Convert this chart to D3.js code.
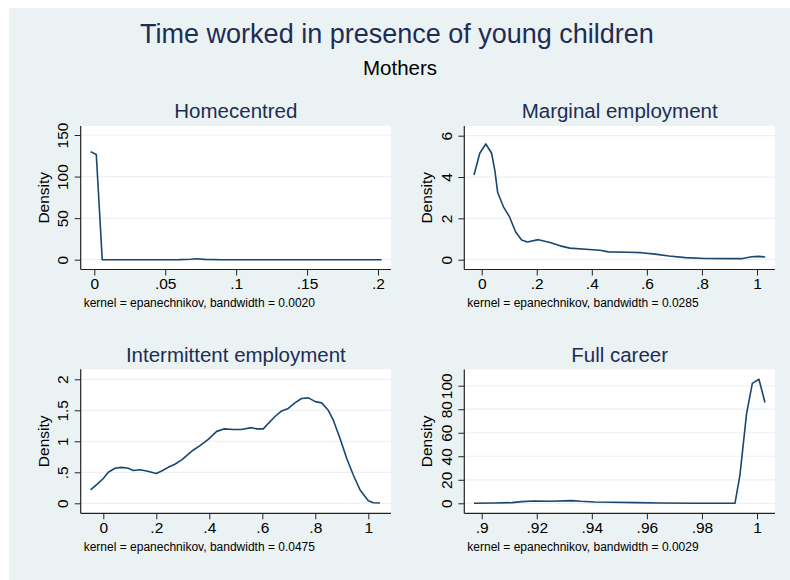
<!DOCTYPE html>
<html>
<head>
<meta charset="utf-8">
<script src="https://cdn.jsdelivr.net/npm/d3@7"></script>
<style>
  body { margin: 0; background: #ffffff; }
  svg { display: block; font-family: "Liberation Sans", Arial, sans-serif; }
</style>
</head>
<body>
<svg id="chart"></svg>
<script>
// Density estimates, one pair of arrays per panel
var homecentredX = [-0.0026, 0.0014, 0.0056, 0.02, 0.04, 0.06, 0.068, 0.0723, 0.078, 0.09, 0.12, 0.15, 0.18, 0.2026];
var homecentredY = [130, 126.5, 0, 0, 0, 0.1, 0.6, 1.2, 0.4, 0, 0, 0, 0, 0];

var marginalX = [-0.028, -0.007, 0.015, 0.036, 0.048, 0.058, 0.079, 0.1, 0.123, 0.145, 0.166, 0.206, 0.248, 0.285, 0.32, 0.39, 0.43, 0.46, 0.53, 0.58, 0.63, 0.68, 0.74, 0.81, 0.9, 0.944, 0.98, 1.005, 1.03];
var marginalY = [4.1, 5.15, 5.6, 5.15, 4.3, 3.25, 2.56, 2.1, 1.35, 0.95, 0.86, 0.97, 0.83, 0.67, 0.56, 0.49, 0.46, 0.38, 0.36, 0.34, 0.27, 0.18, 0.1, 0.06, 0.05, 0.05, 0.14, 0.16, 0.13];

var intermittentX = [-0.048, -0.025, 0, 0.019, 0.044, 0.069, 0.094, 0.113, 0.138, 0.164, 0.2, 0.22, 0.245, 0.27, 0.296, 0.32, 0.34, 0.365, 0.396, 0.428, 0.455, 0.49, 0.52, 0.56, 0.579, 0.604, 0.623, 0.648, 0.673, 0.698, 0.723, 0.748, 0.774, 0.8, 0.824, 0.849, 0.868, 0.893, 0.918, 0.943, 0.969, 1.0, 1.019, 1.044];
var intermittentY = [0.215, 0.3, 0.4, 0.5, 0.565, 0.58, 0.565, 0.53, 0.54, 0.52, 0.48, 0.52, 0.58, 0.63, 0.7, 0.79, 0.86, 0.93, 1.03, 1.16, 1.2, 1.19, 1.19, 1.22, 1.2, 1.2, 1.29, 1.4, 1.49, 1.53, 1.62, 1.69, 1.7, 1.64, 1.62, 1.5, 1.34, 1.05, 0.73, 0.46, 0.215, 0.04, 0.01, 0.005];

var fullCareerX = [0.8972, 0.9048, 0.911, 0.9145, 0.919, 0.925, 0.9327, 0.936, 0.941, 0.947, 0.956, 0.965, 0.977, 0.992, 0.9938, 0.9962, 0.9983, 1.0007, 1.0029];
var fullCareerY = [0, 0.3, 0.6, 1.4, 2, 1.7, 2.3, 1.7, 1.1, 0.85, 0.6, 0.3, 0, 0, 24, 76, 102, 105.5, 85.7];

// Ticks and labels
var homecentredXTicks = [0, 0.05, 0.1, 0.15, 0.2];
var homecentredXLabels = ["0", ".05", ".1", ".15", ".2"];
var homecentredYTicks = [0, 50, 100, 150];
var homecentredYLabels = ["0", "50", "100", "150"];

var marginalXTicks = [0, 0.2, 0.4, 0.6, 0.8, 1];
var marginalXLabels = ["0", ".2", ".4", ".6", ".8", "1"];
var marginalYTicks = [0, 2, 4, 6];
var marginalYLabels = ["0", "2", "4", "6"];

var intermittentXTicks = [0, 0.2, 0.4, 0.6, 0.8, 1];
var intermittentXLabels = ["0", ".2", ".4", ".6", ".8", "1"];
var intermittentYTicks = [0, 0.5, 1, 1.5, 2];
var intermittentYLabels = ["0", ".5", "1", "1.5", "2"];

var fullCareerXTicks = [0.9, 0.92, 0.94, 0.96, 0.98, 1];
var fullCareerXLabels = [".9", ".92", ".94", ".96", ".98", "1"];
var fullCareerYTicks = [0, 20, 40, 60, 80, 100];
var fullCareerYLabels = ["0", "20", "40", "60", "80", "100"];

var panelTitles = ["Homecentred", "Marginal employment", "Intermittent employment", "Full career"];
var bandwidths = ["0.0020", "0.0285", "0.0475", "0.0029"];

// Colours
var bgColor = "#eaf2f3";
var lineColor = "#1a476f";
var titleColor = "#1e2d53";

var svgWidth = 790;
var svgHeight = 580;

var svg = d3.select("#chart")
  .attr("width", svgWidth)
  .attr("height", svgHeight);

// Graph background
svg.append("rect")
  .attr("x", 9)
  .attr("y", 8)
  .attr("width", svgWidth - 9)
  .attr("height", svgHeight - 8)
  .attr("fill", bgColor);

svg.append("text")
  .attr("x", 397)
  .attr("y", 43.3)
  .attr("text-anchor", "middle")
  .attr("fill", titleColor)
  .style("font-size", "27px")
  .text("Time worked in presence of young children");

svg.append("text")
  .attr("x", 400)
  .attr("y", 75)
  .attr("text-anchor", "middle")
  .attr("fill", "#000")
  .style("font-size", "20.5px")
  .text("Mothers");

// Panel layout: plot region box plus where the first and last ticks sit
var panels = [
  { x: homecentredX, y: homecentredY, xTicks: homecentredXTicks, xLabels: homecentredXLabels,
    yTicks: homecentredYTicks, yLabels: homecentredYLabels,
    left: 80.7, right: 391, top: 126, bottom: 269.5,
    xRange: [94.3, 378], yRange: [259.7, 135] },
  { x: marginalX, y: marginalY, xTicks: marginalXTicks, xLabels: marginalXLabels,
    yTicks: marginalYTicks, yLabels: marginalYLabels,
    left: 464.3, right: 775, top: 126, bottom: 269.5,
    xRange: [481.7, 757], yRange: [259.7, 135.7] },
  { x: intermittentX, y: intermittentY, xTicks: intermittentXTicks, xLabels: intermittentXLabels,
    yTicks: intermittentYTicks, yLabels: intermittentYLabels,
    left: 80.7, right: 391, top: 369.3, bottom: 513.3,
    xRange: [103.3, 368.3], yRange: [503.3, 379.3] },
  { x: fullCareerX, y: fullCareerY, xTicks: fullCareerXTicks, xLabels: fullCareerXLabels,
    yTicks: fullCareerYTicks, yLabels: fullCareerYLabels,
    left: 464.3, right: 775, top: 369.5, bottom: 513.3,
    xRange: [481.7, 757], yRange: [503.3, 385.7] }
];

panels.forEach(function (p, i) {
  var xScale = d3.scaleLinear()
    .domain([p.xTicks[0], p.xTicks[p.xTicks.length - 1]])
    .range(p.xRange);
  var yScale = d3.scaleLinear()
    .domain([p.yTicks[0], p.yTicks[p.yTicks.length - 1]])
    .range(p.yRange);

  var g = svg.append("g");

  // white plot region
  g.append("rect")
    .attr("x", p.left)
    .attr("y", p.top)
    .attr("width", p.right - p.left)
    .attr("height", p.bottom - p.top)
    .attr("fill", "#ffffff");

  // grid lines
  g.selectAll(".grid")
    .data(p.yTicks)
    .enter()
    .append("line")
    .attr("class", "grid")
    .attr("x1", p.left)
    .attr("x2", p.right)
    .attr("y1", function (d) { return yScale(d); })
    .attr("y2", function (d) { return yScale(d); })
    .attr("stroke", bgColor)
    .attr("stroke-width", 1.2);

  // y axis
  var yAxis = g.append("g")
    .attr("transform", "translate(" + p.left + ",0)")
    .call(d3.axisLeft(yScale)
      .tickValues(p.yTicks)
      .tickFormat(function (d, k) { return p.yLabels[k]; })
      .tickSize(6)
      .tickSizeOuter(0));
  yAxis.select(".domain").remove();
  yAxis.selectAll("line").attr("stroke", "#222");
  yAxis.selectAll("text")
    .attr("x", null)
    .attr("dy", null)
    .attr("text-anchor", "middle")
    .attr("transform", "translate(-12.5,0) rotate(-90)")
    .attr("fill", "#000")
    .style("font-size", "15.5px")
    .style("font-family", "'Liberation Sans', Arial, sans-serif");

  // x axis
  var xAxis = g.append("g")
    .attr("transform", "translate(0," + p.bottom + ")")
    .call(d3.axisBottom(xScale)
      .tickValues(p.xTicks)
      .tickFormat(function (d, k) { return p.xLabels[k]; })
      .tickSize(6)
      .tickSizeOuter(0));
  xAxis.select(".domain").remove();
  xAxis.selectAll("line").attr("stroke", "#222");
  xAxis.selectAll("text")
    .attr("y", 19.5)
    .attr("dy", null)
    .attr("fill", "#000")
    .style("font-size", "15.5px")
    .style("font-family", "'Liberation Sans', Arial, sans-serif");

  // axis lines along the plot region
  g.append("line")
    .attr("x1", p.left).attr("x2", p.left)
    .attr("y1", p.top).attr("y2", p.bottom)
    .attr("stroke", "#222").attr("stroke-width", 1.2);
  g.append("line")
    .attr("x1", p.left).attr("x2", p.right)
    .attr("y1", p.bottom).attr("y2", p.bottom)
    .attr("stroke", "#222").attr("stroke-width", 1.2);

  // density line
  var points = p.x.map(function (v, k) { return [v, p.y[k]]; });
  var line = d3.line()
    .x(function (d) { return xScale(d[0]); })
    .y(function (d) { return yScale(d[1]); });
  g.append("path")
    .datum(points)
    .attr("d", line)
    .attr("fill", "none")
    .attr("stroke", lineColor)
    .attr("stroke-width", 1.6)
    .attr("stroke-linejoin", "round");

  // panel title
  g.append("text")
    .attr("x", (p.left + p.right) / 2)
    .attr("y", p.top - 7.7)
    .attr("text-anchor", "middle")
    .attr("fill", titleColor)
    .style("font-size", "20.5px")
    .text(panelTitles[i]);

  // y axis title
  g.append("text")
    .attr("transform", "translate(" + (p.left - 32) + "," + ((p.top + p.bottom) / 2) + ") rotate(-90)")
    .attr("text-anchor", "middle")
    .attr("fill", "#000")
    .style("font-size", "15.5px")
    .text("Density");

  // kernel note
  g.append("text")
    .attr("x", p.left + 3)
    .attr("y", p.bottom + 37.3)
    .attr("fill", "#000")
    .style("font-size", "12px")
    .text("kernel = epanechnikov, bandwidth = " + bandwidths[i]);
});
</script>
</body>
</html>
